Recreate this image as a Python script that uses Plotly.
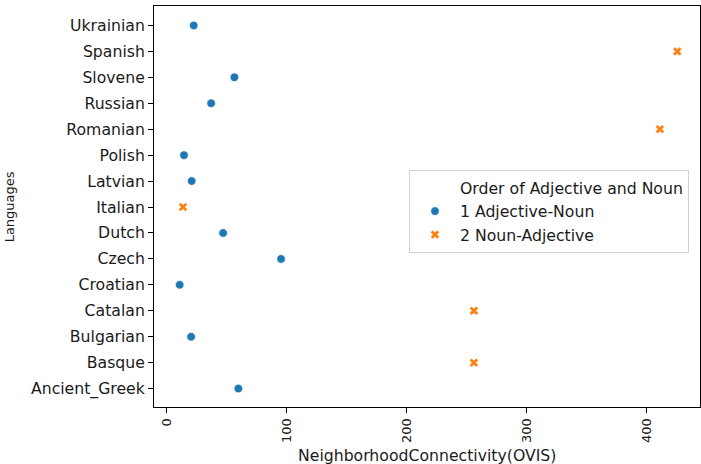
import plotly.graph_objects as go

# Data
languages_adj_noun = ["Ukrainian", "Slovene", "Russian", "Polish", "Latvian",
                      "Dutch", "Czech", "Croatian", "Bulgarian", "Ancient_Greek"]
connectivity_adj_noun = [22.5, 56.4, 37.0, 14.4, 20.8, 47.0, 95.3, 10.8, 20.3, 59.7]

languages_noun_adj = ["Spanish", "Romanian", "Italian", "Catalan", "Basque"]
connectivity_noun_adj = [425.5, 411.0, 13.6, 256.0, 256.0]

category_order = ["Ancient_Greek", "Basque", "Bulgarian", "Catalan", "Croatian",
                  "Czech", "Dutch", "Italian", "Latvian", "Polish", "Romanian",
                  "Russian", "Slovene", "Spanish", "Ukrainian"]
x_ticks = [0, 100, 200, 300, 400]

legend_title = "Order of Adjective and Noun"
series_names = ["1 Adjective-Noun", "2 Noun-Adjective"]
x_title = "NeighborhoodConnectivity(OVIS)"
y_title = "Languages"

FONT = "DejaVu Sans"
FS_H = 15.7   # horizontal texts
FS_V = 13     # rotated texts
TXT = "#1a1a1a"

fig = go.Figure()
# legend title row (seaborn-style blank handle)
fig.add_trace(go.Scatter(x=[None], y=[None], mode="markers", name=legend_title,
                         marker=dict(size=1, color="rgba(0,0,0,0)"),
                         hoverinfo="skip"))
fig.add_trace(go.Scatter(x=connectivity_adj_noun, y=languages_adj_noun,
                         mode="markers", name=series_names[0],
                         marker=dict(symbol="circle", size=8.5, color="#1f77b4",
                                     line=dict(color="white", width=0.6))))
fig.add_trace(go.Scatter(x=connectivity_noun_adj, y=languages_noun_adj,
                         mode="markers", name=series_names[1],
                         marker=dict(symbol="x", size=8, color="#ff7f0e",
                                     line=dict(color="white", width=0.6))))

fig.update_layout(
    width=701, height=464,
    margin=dict(l=154, r=1, t=6, b=57, autoexpand=False),
    paper_bgcolor="white", plot_bgcolor="white",
    font=dict(family=FONT, size=FS_H, color=TXT),
    showlegend=True,
    legend=dict(x=0.467, y=0.591, xanchor="left", yanchor="top",
                bgcolor="rgba(255,255,255,0.85)", bordercolor="#d0d0d0",
                borderwidth=1, itemwidth=40, traceorder="normal",
                tracegroupgap=0,
                font=dict(family=FONT, size=FS_H, color=TXT)),
    annotations=[
        dict(text=x_title, xref="paper", yref="paper", x=0.5, y=-0.122,
             xanchor="center", yanchor="middle", showarrow=False,
             font=dict(family=FONT, size=FS_H, color=TXT)),
        dict(text=y_title, xref="paper", yref="paper", x=-0.264, y=0.5,
             xanchor="center", yanchor="middle", showarrow=False,
             textangle=-90, font=dict(family=FONT, size=FS_V, color=TXT)),
    ],
)
fig.update_xaxes(
    range=[-10.6, 444.4], tickmode="array", tickvals=x_ticks,
    ticktext=[str(v) for v in x_ticks], tickangle=-90,
    tickfont=dict(size=FS_V),
    ticks="outside", ticklen=5, tickcolor="black",
    showline=True, linecolor="black", linewidth=1, mirror=True,
    showgrid=False, zeroline=False, automargin=False,
)
fig.update_yaxes(
    type="category", categoryorder="array", categoryarray=category_order,
    range=[-0.71, 14.75],
    tickfont=dict(size=FS_H),
    ticks="outside", ticklen=5, tickcolor="black",
    showline=True, linecolor="black", linewidth=1, mirror=True,
    showgrid=False, zeroline=False, automargin=False,
)

fig.write_html("out.html", config={"displayModeBar": False},
               post_script="document.body.style.margin='0';")
